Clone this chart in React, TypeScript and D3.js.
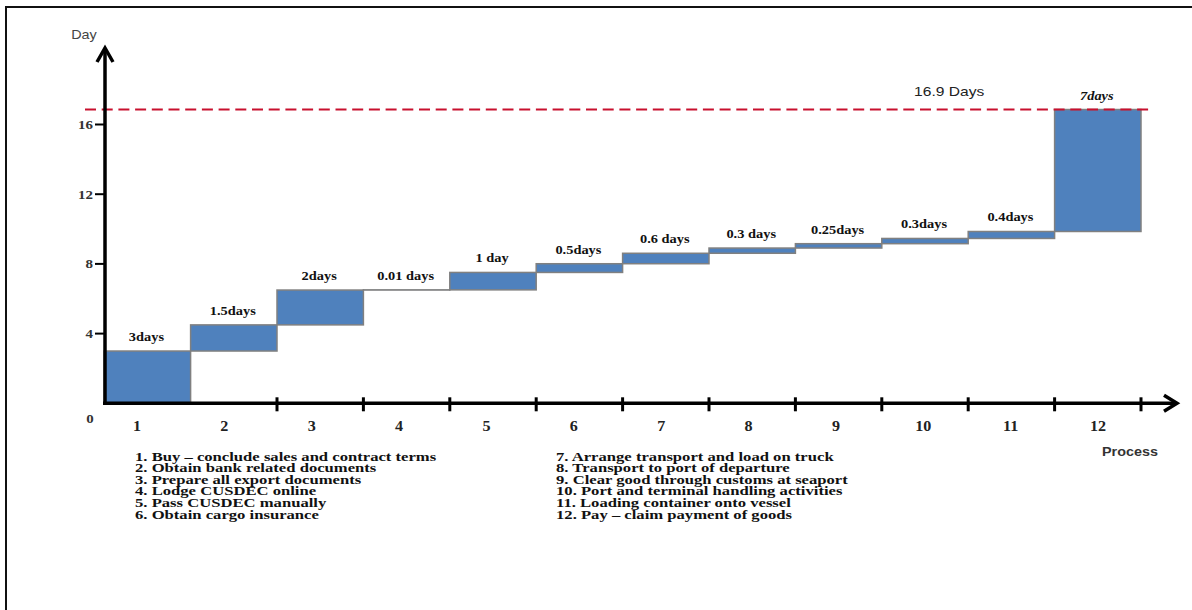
import React from "react";
import * as d3 from "d3";

// Process steps along the x axis and the days each one adds
const categories = ["1", "2", "3", "4", "5", "6", "7", "8", "9", "10", "11", "12"];
const stepDays = [3, 1.5, 2, 0.01, 1, 0.5, 0.6, 0.3, 0.25, 0.3, 0.4, 7];
const stepLabels = [
  "3days", "1.5days", "2days", "0.01 days", "1 day", "0.5days",
  "0.6 days", "0.3 days", "0.25days", "0.3days", "0.4days", "7days",
];
const yTicks = [4, 8, 12, 16];
const totalLabel = "16.9 Days";
const legendLeft = [
  "1. Buy \u2013 conclude sales and contract terms",
  "2. Obtain bank related documents",
  "3. Prepare all export documents",
  "4. Lodge CUSDEC online",
  "5. Pass CUSDEC manually",
  "6. Obtain cargo insurance",
];
const legendRight = [
  "7. Arrange transport and load on truck",
  "8. Transport to port of departure",
  "9. Clear good through customs at seaport",
  "10. Port and terminal handling activities",
  "11. Loading container onto vessel",
  "12. Pay \u2013 claim payment of goods",
];

const W = 1192;
const H = 610;
const SERIF = "'Liberation Serif', 'Times New Roman', serif";
const SANS = "'Liberation Sans', Arial, sans-serif";

type TProps = {
  x: number;
  y: number;
  size: number;
  anchor?: "start" | "middle" | "end";
  family?: string;
  weight?: string | number;
  fill?: string;
  italic?: boolean;
  sx?: number;
  children: React.ReactNode;
};

// Text drawn with a slight horizontal stretch, like the original wide type
function SText({ x, y, size, anchor = "middle", family = SERIF, weight = "bold", fill = "#111", italic, sx = 1.2, children }: TProps) {
  return (
    <text
      transform={`translate(${x},${y}) scale(${sx},1)`}
      textAnchor={anchor}
      fontFamily={family}
      fontSize={size}
      fontWeight={weight}
      fontStyle={italic ? "italic" : "normal"}
      fill={fill}
    >
      {children}
    </text>
  );
}

export default function App() {
  const x0 = 104.2;
  const step = 86.4;
  const xScale = d3.scaleBand<string>().domain(categories).range([x0, x0 + step * categories.length]).padding(0);
  const yScale = d3.scaleLinear().domain([0, 16]).range([403.3, 124.5]);
  const labelScale = d3.scalePoint<string>().domain(categories).range([137, 1098]);

  // cumulative start/end of each step
  const ends = d3.cumsum(stepDays);
  const steps = categories.map((c, i) => ({
    cat: c,
    start: i === 0 ? 0 : ends[i - 1],
    end: ends[i],
    label: stepLabels[i],
  }));
  const total = ends[ends.length - 1];

  const axisY = yScale(0);
  const axisX = 105;
  const bw = xScale.bandwidth();

  return (
    <svg width={W} height={H} style={{ position: "absolute", left: 0, top: 0, background: "#fff" }}>
      <rect x={0} y={0} width={W} height={H} fill="#fff" />
      {/* outer frame */}
      <rect x={6} y={7} width={W + 20} height={H + 20} fill="none" stroke="#111" strokeWidth={2} />

      {/* step bars */}
      {steps.map((s) => (
        <rect
          key={s.cat}
          x={xScale(s.cat)!}
          y={yScale(s.end)}
          width={bw}
          height={Math.max(0, yScale(s.start) - yScale(s.end))}
          fill="#4f81bd"
          stroke="#808080"
          strokeWidth={1.5}
        />
      ))}

      {/* step duration labels */}
      {steps.map((s, i) => (
        <SText key={"l" + s.cat} x={xScale(s.cat)! + bw / 2 - 1} y={yScale(s.end) - 10} size={12} italic={i === steps.length - 1}>
          {s.label}
        </SText>
      ))}

      {/* total line */}
      <line x1={85} x2={1152} y1={yScale(total)} y2={yScale(total)} stroke="#c8102e" strokeWidth={2} strokeDasharray="11 5.7" />
      <SText x={xScale("10")! + bw * 0.78} y={yScale(total) - 14} size={13} family={SANS} weight="normal" fill="#222">
        {totalLabel}
      </SText>

      {/* y axis */}
      <line x1={axisX} x2={axisX} y1={axisY + 1.5} y2={49} stroke="#000" strokeWidth={3.5} />
      <polyline points={`${axisX - 8},${62} ${axisX},${48} ${axisX + 8},${62}`} fill="none" stroke="#000" strokeWidth={3.5} />
      {yTicks.map((t) => (
        <g key={"yt" + t}>
          <line x1={95} x2={axisX} y1={yScale(t)} y2={yScale(t)} stroke="#000" strokeWidth={2} />
          <SText x={93} y={yScale(t) + 4.5} size={13} anchor="end" weight="bold" fill="#333" sx={1.15}>
            {t}
          </SText>
        </g>
      ))}
      <SText x={90} y={yScale(0) + 20} size={13} weight="bold" fill="#333" sx={1.15}>0</SText>
      <SText x={84} y={39} size={12} family={SANS} weight="normal" fill="#444" sx={1.2}>Day</SText>

      {/* x axis */}
      <line x1={axisX - 2} x2={1176} y1={axisY} y2={axisY} stroke="#000" strokeWidth={3.5} />
      <polyline points={`${1164},${axisY - 8} ${1177},${axisY} ${1164},${axisY + 8}`} fill="none" stroke="#000" strokeWidth={3.5} />
      {categories.slice(1).map((c) => (
        <line key={"xt" + c} x1={xScale(c)! + bw} x2={xScale(c)! + bw} y1={axisY - 6} y2={axisY + 8} stroke="#000" strokeWidth={3} />
      ))}
      {categories.map((c) => (
        <SText key={"xl" + c} x={labelScale(c)!} y={axisY + 28} size={14} weight="bold" fill="#222" sx={1.15}>
          {c}
        </SText>
      ))}
      <SText x={1130} y={456} size={12.5} family={SANS} weight="bold" fill="#333" sx={1.15}>Process</SText>

      {/* process legend */}
      {legendLeft.map((t, i) => (
        <SText key={"ll" + i} x={135} y={460.5 + i * 11.6} size={13} anchor="start" sx={1.28}>
          {t}
        </SText>
      ))}
      {legendRight.map((t, i) => (
        <SText key={"lr" + i} x={556} y={460.5 + i * 11.6} size={13} anchor="start" sx={1.28}>
          {t}
        </SText>
      ))}
    </svg>
  );
}
